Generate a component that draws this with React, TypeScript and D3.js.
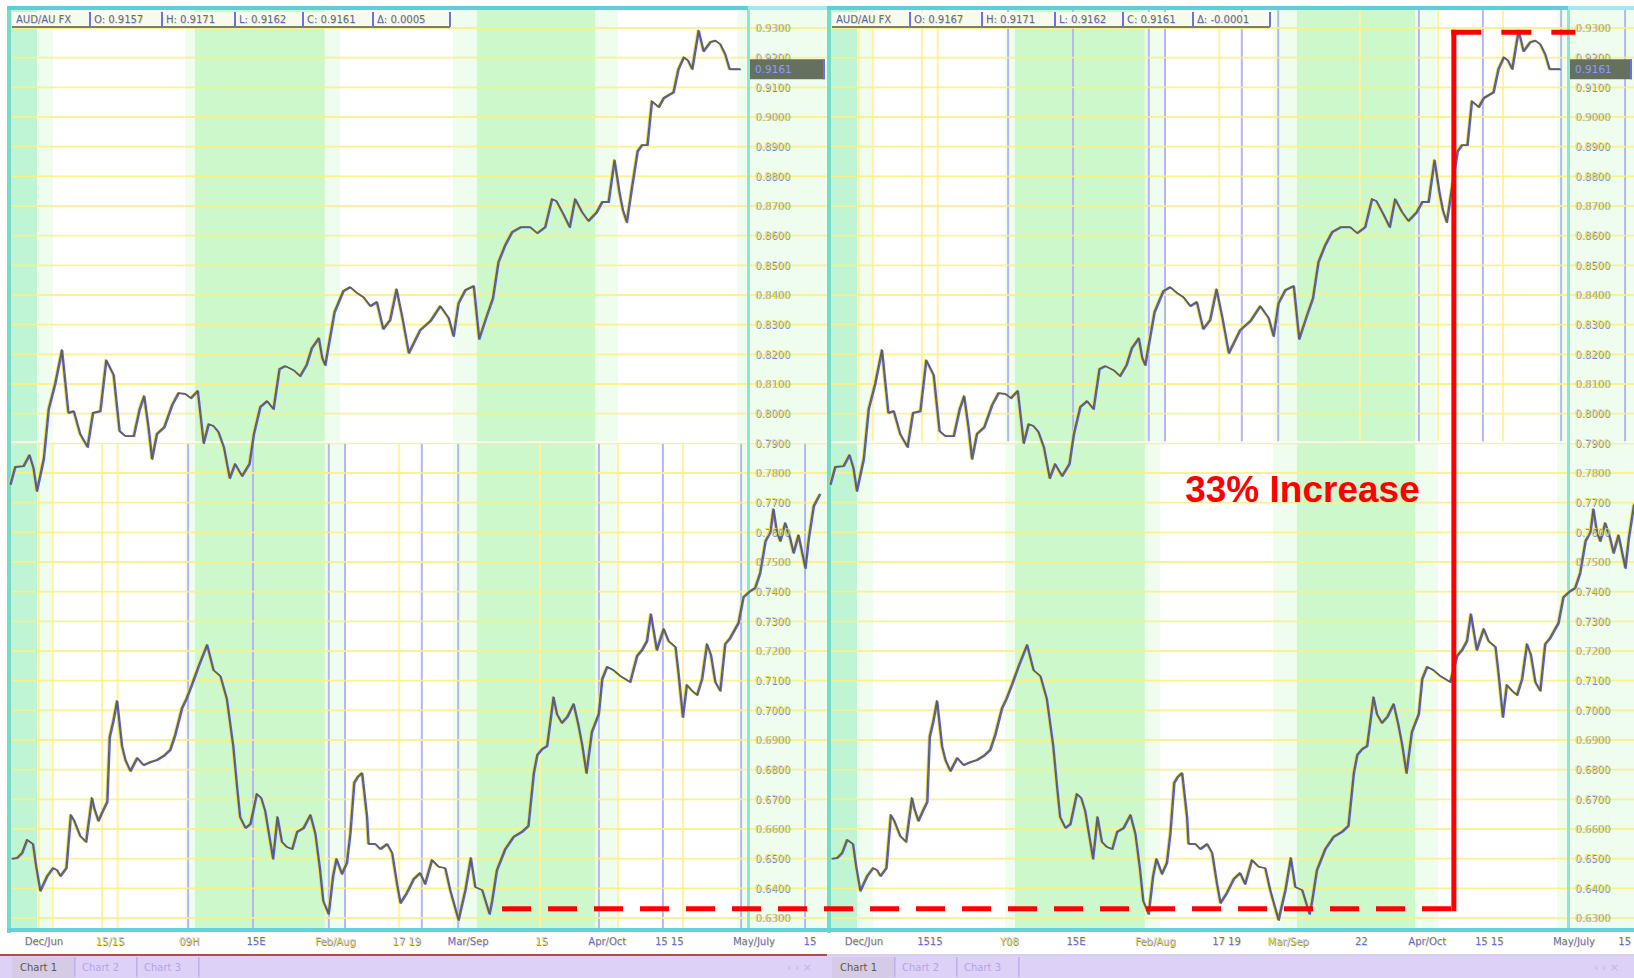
import React from 'react';
import * as d3 from 'd3';

// ---------- data ----------
const upperSeries: [number, number][] = [
  [0, 0.7761], [1.0, 0.7821], [2.7, 0.7824], [3.9, 0.7861], [4.7, 0.7817], [5.4, 0.7740], [6.8, 0.7848], [7.8, 0.8016],
  [9.1, 0.8100], [10.5, 0.8215], [11.8, 0.8003], [12.9, 0.8009], [14.2, 0.7932], [15.7, 0.7888], [16.8, 0.8003], [18.3, 0.8009],
  [19.5, 0.8181], [21.0, 0.8131], [22.2, 0.7942], [23.4, 0.7925], [25.1, 0.7925], [26.3, 0.8016], [27.2, 0.8060], [28.1, 0.7952],
  [28.8, 0.7848], [29.8, 0.7932], [31.3, 0.7955], [32.9, 0.8030], [34.2, 0.8070], [35.6, 0.8067], [36.7, 0.8053], [38.1, 0.8077],
  [39.3, 0.7901], [40.3, 0.7965], [41.3, 0.7959], [42.3, 0.7939], [43.4, 0.7888], [44.6, 0.7783], [45.7, 0.7831], [47.1, 0.7790],
  [48.6, 0.7831], [49.5, 0.7932], [50.8, 0.8023], [52.2, 0.8043], [53.5, 0.8016], [54.7, 0.8151], [55.9, 0.8161], [57.6, 0.8147],
  [58.9, 0.8127], [60.2, 0.8164], [61.3, 0.8222], [62.7, 0.8255], [63.4, 0.8188], [64.0, 0.8164], [65.9, 0.8343], [67.7, 0.8414],
  [69.1, 0.8427], [70.5, 0.8407], [71.8, 0.8393], [73.2, 0.8363], [74.5, 0.8377], [75.8, 0.8286], [77.2, 0.8316], [78.5, 0.8420],
  [79.7, 0.8323], [81.0, 0.8205], [83.3, 0.8282], [85.4, 0.8313], [87.4, 0.8363], [89.1, 0.8323], [90.1, 0.8262], [91.1, 0.8373],
  [92.5, 0.8417], [94.2, 0.8431], [95.3, 0.8252], [96.9, 0.8333], [98.1, 0.8390], [99.2, 0.8511], [100.6, 0.8569], [102.0, 0.8613],
  [103.7, 0.8629], [105.7, 0.8629], [107.1, 0.8609], [108.7, 0.8629], [110.1, 0.8724], [111.0, 0.8717], [112.5, 0.8670], [113.7, 0.8629],
  [114.8, 0.8724], [116.2, 0.8680], [117.5, 0.8650], [119.2, 0.8680], [120.3, 0.8714], [121.6, 0.8714], [122.8, 0.8855], [123.8, 0.8747],
  [124.5, 0.8687], [125.3, 0.8646], [126.4, 0.8768], [127.5, 0.8885], [128.4, 0.8906], [129.5, 0.8906], [130.4, 0.9054], [131.8, 0.9034],
  [132.8, 0.9064], [134.8, 0.9084], [135.8, 0.9162], [136.9, 0.9202], [137.7, 0.9192], [138.6, 0.9162], [139.9, 0.9292], [140.9, 0.9222],
  [142.3, 0.9253], [143.3, 0.9258], [144.3, 0.9246], [145.3, 0.9212], [146.2, 0.9162], [147.0, 0.9162], [148.4, 0.9162],
];

const lowerSeries: [number, number][] = [
  [0.3, 0.6500], [1.4, 0.6503], [2.4, 0.6520], [3.4, 0.6564], [4.6, 0.6550], [5.3, 0.6469], [6.1, 0.6392], [7.5, 0.6442],
  [8.7, 0.6469], [9.5, 0.6462], [10.2, 0.6442], [11.4, 0.6469], [12.3, 0.6648], [13.0, 0.6628], [14.2, 0.6577], [15.4, 0.6557],
  [16.6, 0.6705], [17.1, 0.6668], [17.9, 0.6628], [19.0, 0.6668], [19.7, 0.6692], [20.2, 0.6911], [20.9, 0.6961], [21.7, 0.7032],
  [22.7, 0.6880], [23.4, 0.6833], [24.4, 0.6796], [25.8, 0.6840], [27.1, 0.6816], [28.5, 0.6826], [29.8, 0.6833], [31.2, 0.6847],
  [32.5, 0.6867], [33.5, 0.6917], [34.9, 0.7008], [35.8, 0.7039], [36.9, 0.7086], [38.3, 0.7150], [40.0, 0.7221], [41.3, 0.7136],
  [42.7, 0.7116], [44.0, 0.7039], [45.3, 0.6880], [46.1, 0.6739], [46.7, 0.6641], [47.8, 0.6604], [48.8, 0.6617], [50.1, 0.6719],
  [51.0, 0.6705], [51.8, 0.6661], [52.7, 0.6570], [53.4, 0.6500], [54.3, 0.6641], [55.2, 0.6557], [56.2, 0.6540], [57.3, 0.6533],
  [58.3, 0.6591], [59.6, 0.6604], [61.0, 0.6648], [62.0, 0.6584], [62.9, 0.6469], [63.6, 0.6358], [64.7, 0.6314], [65.6, 0.6442],
  [66.3, 0.6500], [67.4, 0.6449], [68.4, 0.6486], [69.1, 0.6584], [69.9, 0.6756], [70.6, 0.6776], [71.5, 0.6789], [72.5, 0.6641],
  [72.8, 0.6550], [74.2, 0.6550], [75.2, 0.6533], [76.6, 0.6550], [77.6, 0.6520], [78.6, 0.6415], [79.3, 0.6351], [80.6, 0.6385],
  [82.0, 0.6432], [83.3, 0.6452], [84.3, 0.6415], [85.7, 0.6496], [87.1, 0.6473], [88.4, 0.6469], [89.4, 0.6395], [91.1, 0.6294],
  [92.5, 0.6395], [93.6, 0.6503], [94.5, 0.6405], [95.9, 0.6395], [97.4, 0.6314], [97.9, 0.6355], [98.9, 0.6462], [100.6, 0.6533],
  [102.3, 0.6574], [104.0, 0.6591], [105.3, 0.6611], [106.4, 0.6789], [107.1, 0.6850], [108.1, 0.6870], [109.1, 0.6880], [109.8, 0.6968],
  [110.4, 0.7045], [111.1, 0.6988], [112.1, 0.6958], [113.2, 0.6978], [114.5, 0.7022], [115.5, 0.6948], [116.2, 0.6887], [117.1, 0.6789],
  [118.2, 0.6928], [119.6, 0.6988], [120.3, 0.7106], [121.3, 0.7147], [122.6, 0.7136], [124.0, 0.7116], [126.0, 0.7096], [127.4, 0.7184],
  [128.4, 0.7204], [129.4, 0.7234], [130.2, 0.7325], [131.4, 0.7204], [132.8, 0.7275], [133.8, 0.7234], [135.2, 0.7214], [135.8, 0.7126],
  [136.7, 0.6978], [137.5, 0.7086], [138.6, 0.7066], [139.6, 0.7052], [140.6, 0.7106], [141.6, 0.7224], [142.4, 0.7187], [143.3, 0.7096],
  [144.3, 0.7066], [145.3, 0.7224], [146.3, 0.7244], [148.0, 0.7295], [149.0, 0.7382], [150.4, 0.7403], [151.4, 0.7413], [152.4, 0.7463],
  [153.5, 0.7571], [154.5, 0.7602], [155.1, 0.7679], [155.8, 0.7602], [156.5, 0.7571], [157.5, 0.7632], [158.5, 0.7581], [159.2, 0.7531],
  [160.2, 0.7591], [161.6, 0.7480], [162.3, 0.7581], [163.3, 0.7689], [164.6, 0.7730],
];

const yTickValues: number[] = d3.range(0, 31).map((i) => +(0.63 + i * 0.01).toFixed(2));
const lastPrice = 0.9161;

// session shading, in bar units
const bandsA = [
  { from: 0, to: 5.5, kind: 'mint' }, { from: 5.5, to: 8.7, kind: 'pale' },
  { from: 35.6, to: 37.6, kind: 'pale' }, { from: 37.6, to: 64.0, kind: 'green' }, { from: 64.0, to: 67.1, kind: 'pale' },
  { from: 90.0, to: 94.9, kind: 'pale' }, { from: 94.9, to: 118.9, kind: 'green' }, { from: 118.9, to: 123.6, kind: 'pale' },
  { from: 147.8, to: 150, kind: 'pale' },
];
const bandsB = [
  { from: 0, to: 5.5, kind: 'mint' }, { from: 5.5, to: 8.7, kind: 'pale' },
  { from: 35.6, to: 37.6, kind: 'pale' }, { from: 37.6, to: 64.0, kind: 'green' }, { from: 64.0, to: 68.1, kind: 'pale' },
  { from: 90.0, to: 94.9, kind: 'pale' }, { from: 94.9, to: 118.9, kind: 'green' }, { from: 118.9, to: 123.6, kind: 'pale' },
  { from: 147.8, to: 150, kind: 'pale' },
];
const blueLinesB = [36.2, 49.4, 64.8, 68.1, 83.7, 91.1, 119.7, 132.7, 148.6];
const stripBlueLine = 161.6;
const yellowLinesB = [5.9, 8.7, 18.7, 21.9, 79.1, 107.7, 123.6, 136.8];

const xLabelBars = [6.9, 20.3, 36.4, 50.0, 66.1, 80.6, 93.1, 108.0, 121.4, 134.0, 151.2, 162.6];
const xLabelsLeft = ['Dec/Jun', '15/15', '09H', '15E', 'Feb/Aug', '17 19', 'Mar/Sep', '15', 'Apr/Oct', '15 15', 'May/July', '15'];
const xLabelsRight = ['Dec/Jun', '1515', 'Y08', '15E', 'Feb/Aug', '17 19', 'Mar/Sep', '22', 'Apr/Oct', '15 15', 'May/July', '15'];
const xLabelColorsLeft = ['b', 'y', 'y', 'b', 'y', 'y', 'b', 'y', 'b', 'b', 'b', 'b'];
const xLabelColorsRight = ['b', 'b', 'y', 'b', 'y', 'b', 'y', 'b', 'b', 'b', 'b', 'b'];

const legendLeft = ['AUD/AU FX', 'O: 0.9157', 'H: 0.9171', 'L: 0.9162', 'C: 0.9161', 'Δ: 0.0005'];
const legendRight = ['AUD/AU FX', 'O: 0.9167', 'H: 0.9171', 'L: 0.9162', 'C: 0.9161', 'Δ: -0.0001'];
const legendWidths = [78, 72, 73, 68, 70, 77];
const tabNames = ['Chart 1', 'Chart 2', 'Chart 3'];

// annotation (33% increase)
const annLow = 0.6331;
const annHigh = 0.9286;
const annStartBarLeft = 100;
const annPivotBarRight = 126.8;
const annEndBarRight = 151.5;
const annText = '33% Increase';
const annTextBarRight = 72.2;
const annTextPrice = 0.7702;

// ---------- layout ----------
const W = 1634;
const H = 978;
const TOP = 10;
const MID = 443;
const BOTTOM = 928;
const FONT = 'DejaVu Sans, Verdana, sans-serif';

const yScale = d3.scaleLinear().domain([0.63, 0.93]).range([918, 28]);

const BAND_FILL: Record<string, string> = { mint: '#bff4d4', pale: '#effdef', green: '#cdf8cc' };

function Fringe({ x, y, text, size = 10, main = '#e9df45', shadow = '#5862d8', anchor = 'start', weight = 'normal' }: any) {
  return (
    <g fontFamily={FONT} fontSize={size} fontWeight={weight} textAnchor={anchor}>
      <text x={x + 0.8} y={y + 0.8} fill={shadow} opacity={0.8}>{text}</text>
      <text x={x} y={y} fill={main} opacity={0.9}>{text}</text>
    </g>
  );
}

function Panel({ plotLeft, plotRight, stripRight, upper, lower, legend, labels, labelColors, tabColorTop, left }: any) {
  const x = d3.scaleLinear().domain([0, 150]).range([plotLeft, plotRight]);
  const line = d3.line<[number, number]>().x((d) => x(d[0])).y((d) => yScale(d[1]));
  const up = line(upperSeries) || '';
  const low = line(lowerSeries) || '';

  const drawBands = (kind: string, y0: number, y1: number) => {
    const bands = kind === 'A' ? bandsA : bandsB;
    return (
      <g>
        {bands.map((b, i) => (
          <rect key={i} x={x(b.from)} y={y0} width={x(b.to) - x(b.from)} height={y1 - y0} fill={BAND_FILL[b.kind]} />
        ))}
        {kind === 'B' && yellowLinesB.map((v, i) => (
          <line key={'y' + i} x1={x(v)} x2={x(v)} y1={y0} y2={y1} stroke="#fff3a0" strokeWidth={2} />
        ))}
        {kind === 'B' && blueLinesB.map((v, i) => (
          <line key={'b' + i} x1={x(v)} x2={x(v)} y1={y0} y2={y1} stroke="#b4b6ee" strokeWidth={2} />
        ))}
      </g>
    );
  };

  const legendXs: number[] = [];
  let acc = plotLeft + 2;
  legendWidths.forEach((w) => { legendXs.push(acc); acc += w; });

  const stripLineY = lower === 'B' ? [MID, BOTTOM] : [TOP, MID];

  return (
    <g>
      <rect x={plotLeft} y={TOP} width={stripRight - plotLeft} height={BOTTOM - TOP} fill="#ffffff" />
      {drawBands(upper, TOP, MID)}
      {drawBands(lower, MID, BOTTOM)}
      {/* axis strip */}
      <rect x={plotRight} y={TOP} width={stripRight - plotRight} height={BOTTOM - TOP} fill="#effdef" />
      <line x1={x(stripBlueLine)} x2={x(stripBlueLine)} y1={stripLineY[0]} y2={stripLineY[1]} stroke="#b4b6ee" strokeWidth={2} />
      {/* horizontal grid */}
      {yTickValues.map((v, i) => (
        <line key={i} x1={plotLeft} x2={stripRight} y1={yScale(v)} y2={yScale(v)} stroke="#fbf17e" strokeWidth={1.8} opacity={0.85} />
      ))}
      <line x1={plotLeft} x2={stripRight} y1={MID - 1} y2={MID - 1} stroke="#ffffff" strokeWidth={1.5} />
      {/* borders */}
      <rect x={plotRight - 1} y={TOP} width={3} height={BOTTOM - TOP} fill="#8ee6cf" />
      <rect x={plotLeft - 3} y={TOP - 4} width={4} height={BOTTOM - TOP + 9} fill="#74dcc8" />
      <rect x={plotLeft - 3} y={TOP - 4} width={stripRight - plotLeft + 3} height={4} fill="#5ccfd9" />
      <rect x={plotRight} y={TOP - 4} width={stripRight - plotRight} height={4} fill="#a3e9ec" />
      <rect x={plotLeft - 3} y={BOTTOM} width={stripRight - plotLeft + 3} height={4} fill="#62d3dc" />

      {/* price lines */}
      {[up, low].map((d, i) => (
        <g key={i} fill="none" strokeLinejoin="round">
          <path d={d} stroke="#ece348" strokeWidth={1.4} transform="translate(-1,0)" />
          <path d={d} stroke="#5a5ff0" strokeWidth={1.4} transform="translate(1,0.5)" />
          <path d={d} stroke="#5e5e62" strokeWidth={1.5} />
        </g>
      ))}

      {/* y axis labels */}
      {yTickValues.map((v, i) => (
        <Fringe key={i} x={plotRight + 7} y={yScale(v) + 3.5} text={v.toFixed(4)} size={10} />
      ))}
      <rect x={plotRight + 2} y={yScale(lastPrice) - 10} width={stripRight - plotRight - 4} height={20} fill="#66705f" />
      <rect x={stripRight - 4} y={yScale(lastPrice) - 10} width={2} height={20} fill="#6a72e0" />
      <text x={plotRight + 7} y={yScale(lastPrice) + 4} fill="#8c9bff" fontFamily={FONT} fontSize={10.5}>{lastPrice.toFixed(4)}</text>

      {/* legend header */}
      <rect x={plotLeft + 2} y={TOP + 2} width={acc - plotLeft - 2} height={15} fill="#f7fbee" />
      <rect x={plotLeft + 2} y={TOP + 16} width={acc - plotLeft - 2} height={2} fill="#7d7d68" />
      {legend.map((t: string, i: number) => (
        <g key={i}>
          {i > 0 && <rect x={legendXs[i] - 1} y={TOP + 2} width={2} height={15} fill="#6b70e2" />}
          <Fringe x={legendXs[i] + 4} y={TOP + 13} text={t} size={10} main="#4d55c8" shadow="#e6dc40" />
        </g>
      ))}
      <rect x={acc - 1} y={TOP + 2} width={2} height={15} fill="#6b70e2" />

      {/* x labels */}
      {labels.map((t: string, i: number) => {
        const px = x(xLabelBars[i]);
        const atEdge = px > W - 14;
        return (
          <Fringe key={i} x={atEdge ? W - 3 : px} y={945} text={t} size={10} anchor={atEdge ? 'end' : 'middle'}
            main={labelColors[i] === 'b' ? '#5660d8' : '#e2d63a'} shadow={labelColors[i] === 'b' ? '#e6dc40' : '#5660d8'} />
        );
      })}

      {/* tab bar */}
      <rect x={left} y={955} width={stripRight - left} height={23} fill="#ddd1f7" />
      <rect x={left} y={954} width={stripRight - left} height={2} fill={tabColorTop} />
      <rect x={plotLeft + 2} y={957} width={62} height={21} fill="#d5cbe6" />
      {tabNames.map((t, i) => (
        <g key={i}>
          <text x={plotLeft + 10 + i * 62} y={971} fontFamily={FONT} fontSize={10}
            fill={i === 0 ? '#5c5a48' : '#b5a6e3'}>{t}</text>
          <rect x={plotLeft + 64 + i * 62} y={957} width={1.5} height={20} fill="#c2aee8" />
        </g>
      ))}
      <text x={stripRight - 40} y={971} fontFamily={FONT} fontSize={11} fill="#c2b4ec">{'‹  ›  ×'}</text>
    </g>
  );
}

export default function App() {
  const xLeft = d3.scaleLinear().domain([0, 150]).range([10, 748]);
  const xRight = d3.scaleLinear().domain([0, 150]).range([830, 1568]);
  const yLow = yScale(annLow);
  const yHigh = yScale(annHigh);
  const xPivot = xRight(annPivotBarRight);
  return (
    <svg width={W} height={H} viewBox={`0 0 ${W} ${H}`} style={{ position: 'absolute', left: 0, top: 0, display: 'block', background: '#fff' }}>
      <rect x={0} y={0} width={W} height={H} fill="#ffffff" />
      <Panel plotLeft={10} plotRight={748} stripRight={827} upper="A" lower="B" legend={legendLeft}
        labels={xLabelsLeft} labelColors={xLabelColorsLeft} tabColorTop="#b84a48" left={0} />
      <Panel plotLeft={830} plotRight={1568} stripRight={1634} upper="B" lower="A" legend={legendRight}
        labels={xLabelsRight} labelColors={xLabelColorsRight} tabColorTop="#d8d0e4" left={827} />

      {/* annotation */}
      <g stroke="#ff0000" strokeWidth={5} fill="none">
        <line x1={xLeft(annStartBarLeft)} x2={xPivot} y1={yLow} y2={yLow} strokeDasharray="29 17" />
        <line x1={xPivot} x2={xPivot} y1={yLow + 2.5} y2={yHigh - 2.5} />
        <line x1={xPivot - 2.5} x2={xRight(annEndBarRight)} y1={yHigh} y2={yHigh} strokeDasharray="30 20" />
      </g>
      <text x={xRight(annTextBarRight)} y={yScale(annTextPrice)} fill="#ff0000" fontFamily="Liberation Sans, Arial, sans-serif"
        fontWeight="bold" fontSize={37}>{annText}</text>
    </svg>
  );
}
